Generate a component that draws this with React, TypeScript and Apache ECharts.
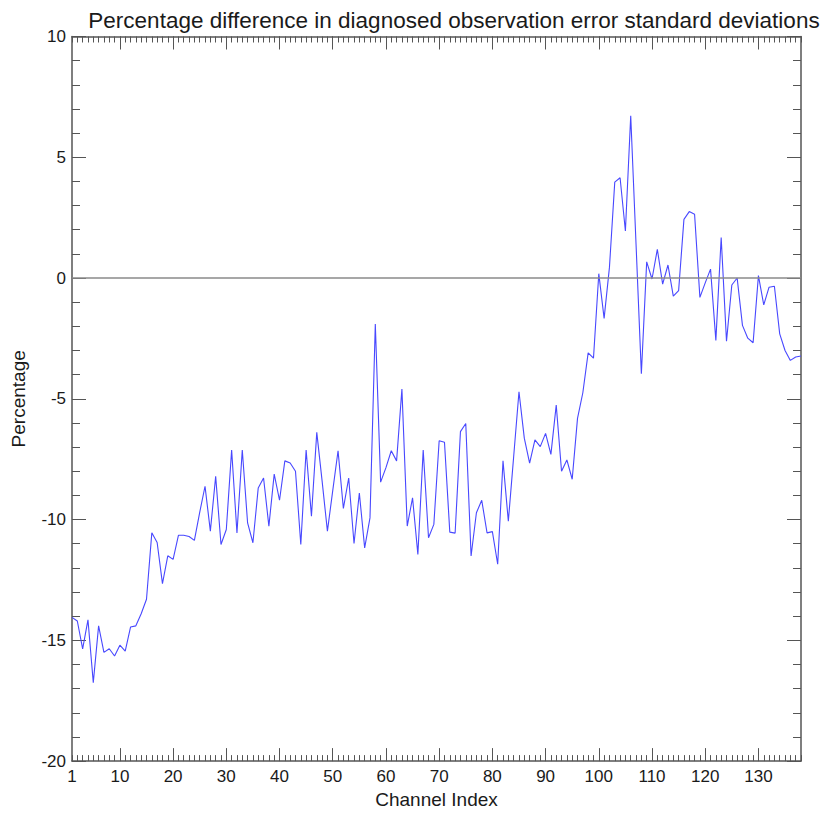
import React, { useEffect, useRef } from "react";
import * as echarts from "echarts";

// Percentage difference per channel (channels 1..138)
const channelValues: number[] = [
  -14.05, -14.2, -15.35, -14.15, -16.75, -14.4, -15.5, -15.35, -15.65, -15.2,
  -15.45, -14.45, -14.4, -13.9, -13.3, -10.55, -10.95, -12.65, -11.5, -11.65,
  -10.65, -10.65, -10.7, -10.86, -9.7, -8.62, -10.48, -8.21, -11.03, -10.41,
  -7.12, -10.55, -7.12, -10.14, -10.96, -8.69, -8.28, -10.27, -8.12, -9.2,
  -7.57, -7.66, -8.0, -11.03, -7.12, -9.86, -6.39, -8.4, -10.48, -8.8,
  -7.15, -9.54, -8.28, -10.99, -8.9, -11.17, -9.93, -1.9, -8.45, -7.85,
  -7.15, -7.57, -4.6, -10.27, -9.1, -11.44, -7.12, -10.75, -10.2, -6.74,
  -6.8, -10.52, -10.56, -6.36, -6.02, -11.51, -9.72, -9.2, -10.55, -10.5,
  -11.85, -7.57, -10.07, -7.4, -4.71, -6.63, -7.66, -6.7, -6.98, -6.43,
  -7.3, -5.26, -8.0, -7.53, -8.33, -5.81, -4.75, -3.1, -3.32, 0.18,
  -1.67, 0.44, 3.97, 4.15, 1.95, 6.72, 1.4, -3.96, 0.67, -0.04,
  1.19, -0.25, 0.54, -0.75, -0.52, 2.43, 2.75, 2.64, -0.8, -0.2,
  0.37, -2.58, 1.68, -2.62, -0.29, 0.0, -1.96, -2.49, -2.68, 0.1,
  -1.11, -0.38, -0.34, -2.31, -3.0, -3.41, -3.27, -3.23,
];

const firstChannel = 1;
const lastChannel = 138;
const xLabelValues: number[] = [1, 10, 20, 30, 40, 50, 60, 70, 80, 90, 100, 110, 120, 130];
const xMajorTickValues: number[] = [10, 20, 30, 40, 50, 60, 70, 80, 90, 100, 110, 120, 130];
const yMin = -20;
const yMax = 10;
const yStep = 5;

const titleText = "Percentage difference in diagnosed observation error standard deviations";
const xTitle = "Channel Index";
const yTitle = "Percentage";

const FONT = "'Liberation Sans', Arial, Helvetica, sans-serif";
const AXIS_COLOR = "#555555";
const TEXT_COLOR = "#1a1a1a";

export default function App() {
  const ref = useRef<HTMLDivElement>(null);

  useEffect(() => {
    if (!ref.current) return;
    const chart = echarts.init(ref.current, undefined, { renderer: "svg" });

    const points = channelValues.map((v, i) => [firstChannel + i, v]);

    const axisLine = { show: true, onZero: false, lineStyle: { color: AXIS_COLOR, width: 1.5 } };

    const minorX = (position: "bottom" | "top") => ({
      type: "value",
      position,
      min: firstChannel,
      max: lastChannel,
      interval: 1,
      axisLine,
      axisTick: { show: true, inside: true, length: 6, lineStyle: { color: AXIS_COLOR, width: 1 } },
      axisLabel: { show: false },
      splitLine: { show: false },
    });

    const majorX = (position: "bottom" | "top", labels: boolean) => ({
      type: "value",
      position,
      min: firstChannel,
      max: lastChannel,
      axisLine: { show: false, onZero: false },
      axisTick: {
        show: true,
        inside: true,
        length: 13,
        customValues: xMajorTickValues,
        lineStyle: { color: AXIS_COLOR, width: 1 },
      },
      axisLabel: labels
        ? {
            show: true,
            customValues: xLabelValues,
            fontSize: 17,
            color: TEXT_COLOR,
            fontFamily: FONT,
            margin: 7,
          }
        : { show: false },
      splitLine: { show: false },
      ...(labels
        ? {
            name: xTitle,
            nameLocation: "middle",
            nameGap: 28,
            nameTextStyle: { fontSize: 19, color: TEXT_COLOR, fontFamily: FONT },
          }
        : {}),
    });

    const yAxisDef = (position: "left" | "right", labels: boolean) => ({
      type: "value",
      position,
      min: yMin,
      max: yMax,
      interval: yStep,
      axisLine,
      axisTick: { show: true, inside: true, length: 14, lineStyle: { color: AXIS_COLOR, width: 1 } },
      minorTick: { show: true, splitNumber: 5, length: 8, lineStyle: { color: AXIS_COLOR, width: 1 } },
      axisLabel: labels
        ? { show: true, fontSize: 17, color: TEXT_COLOR, fontFamily: FONT, margin: 6 }
        : { show: false },
      splitLine: { show: false },
      minorSplitLine: { show: false },
      ...(labels
        ? {
            name: yTitle,
            nameLocation: "middle",
            nameGap: 44,
            nameRotate: 90,
            nameTextStyle: { fontSize: 19, color: TEXT_COLOR, fontFamily: FONT },
          }
        : {}),
    });

    chart.setOption({
      animation: false,
      backgroundColor: "#ffffff",
      title: {
        text: titleText,
        left: 449,
        top: 4,
        textAlign: "center",
        textStyle: { fontSize: 22.5, fontWeight: "normal", color: TEXT_COLOR, fontFamily: FONT },
      },
      grid: { left: 72, right: 30, top: 36.5, bottom: 50, containLabel: false },
      xAxis: [minorX("bottom"), majorX("bottom", true), minorX("top"), majorX("top", false)],
      yAxis: [yAxisDef("left", true), yAxisDef("right", false)],
      series: [
        {
          type: "line",
          xAxisIndex: 0,
          yAxisIndex: 0,
          data: points,
          showSymbol: false,
          symbol: "none",
          lineStyle: { color: "#4848ff", width: 1.1 },
          markLine: {
            silent: true,
            symbol: "none",
            label: { show: false },
            lineStyle: { color: "#8a8a8a", width: 1.6, type: "solid" },
            data: [{ yAxis: 0 }],
          },
        },
      ],
    });

    return () => chart.dispose();
  }, []);

  return (
    <div
      ref={ref}
      style={{ position: "fixed", left: 0, top: 0, width: 831, height: 814, background: "#fff" }}
    />
  );
}
